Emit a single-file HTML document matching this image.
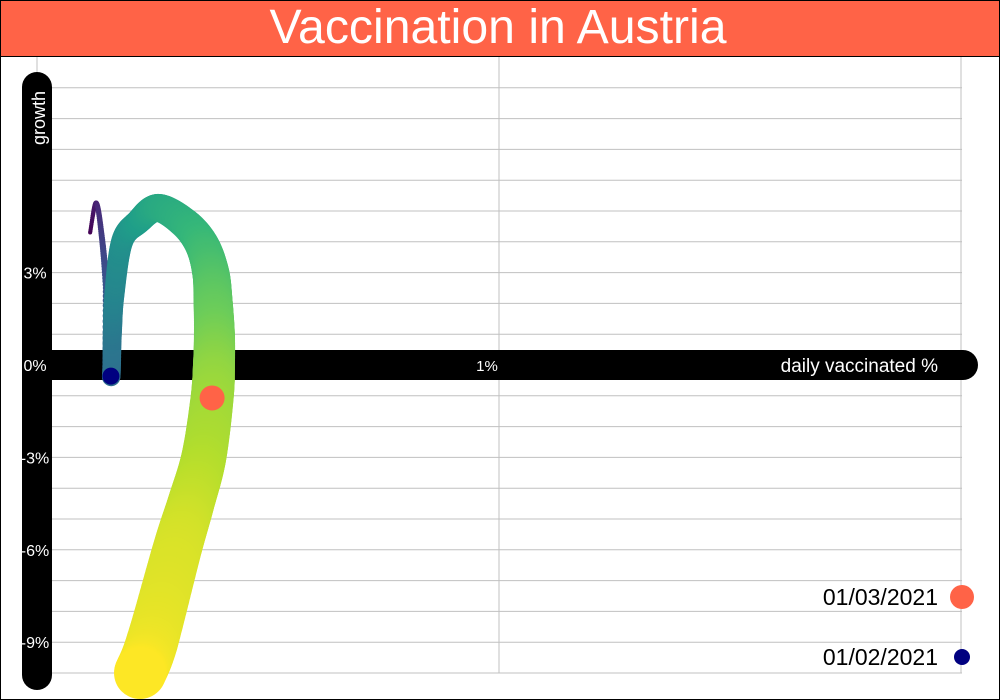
<!DOCTYPE html>
<html><head><meta charset="utf-8"><style>
html,body{margin:0;padding:0;background:#fff;}
svg{display:block;font-family:"Liberation Sans",Arial,sans-serif;}
</style></head><body>
<svg id="chart" width="1000" height="700" viewBox="0 0 1000 700">
<rect x="0.5" y="0.5" width="999" height="699" fill="#fff" stroke="#000"/>
<rect x="0.5" y="0.5" width="999" height="56" fill="#ff6347" stroke="#000"/>
<text x="498" y="43" font-size="48" fill="#fff" text-anchor="middle" textLength="457" lengthAdjust="spacingAndGlyphs">Vaccination in Austria</text>
<g id="grid"></g>
<rect x="22" y="72" width="30" height="618" rx="15" fill="#000"/>
<rect x="22" y="350" width="956" height="30" rx="15" fill="#000"/>
<text transform="translate(45,118) rotate(-90)" font-size="18" fill="#fff" text-anchor="middle">growth</text>
<text x="938" y="372" font-size="19" fill="#fff" text-anchor="end">daily vaccinated %</text>
<g id="ticks"></g>
<g id="series"></g>
<g id="legend"></g>
</svg>
<script>
const xVals=[0.115,0.128,0.140,0.150,0.160,0.163,0.167,0.184,0.219,0.262,0.320,0.357,0.376,0.381,0.384,0.383,0.379,0.361,0.333,0.303,0.249,0.223];
const yVals=[4.3,5.26,4.2,2.5,-0.36,1.0,2.2,4.0,4.65,5.1,4.6,3.9,3.0,2.1,1.0,0.0,-1.07,-3.0,-4.5,-6.0,-9.0,-10.0];
const sizes=[4,5,6,7,18,19,20,22,25,28,31,34,37,39,41,42,43,45,47,49,52,52];
const yTickVals=[3,0,-3,-6,-9];
const yTickLabels=["3%","0%","-3%","-6%","-9%"];
const xTickVals=[1];
const xTickLabels=["1%"];
const legendLabels=["01/03/2021","01/02/2021"];
const legendIndex=[16,4];
const legendColors=["#ff6347","#000080"];

const NS="http://www.w3.org/2000/svg";
const X=v=>37+v*462;
const Y=v=>365-v*30.8;
function mk(tag,attrs,parent){const e=document.createElementNS(NS,tag);for(const k in attrs)e.setAttribute(k,attrs[k]);parent.appendChild(e);return e;}
const grid=document.getElementById('grid');
for(let g=9;g>=-10;g--){
  const l=mk('line',{x1:52,x2:962,y1:Y(g),y2:Y(g),stroke:'#c0c0c0','stroke-width':1},grid);
  
  
}
for(const g of [0,1,2]){
  const l=mk('line',{x1:X(g),x2:X(g),y1:57,y2:Y(-10),stroke:'#c0c0c0','stroke-width':1},grid);
  
  
}
const ticks=document.getElementById('ticks');
yTickVals.forEach((v,i)=>{
  const t=mk('text',{x:35,y:Y(v)+6,'font-size':16,fill:'#fff','text-anchor':'middle'},ticks);
  t.textContent=yTickLabels[i];
  
  
});
xTickVals.forEach((v,i)=>{
  const t=mk('text',{x:X(v)-12,y:371,'font-size':15,fill:'#fff','text-anchor':'middle'},ticks);
  t.textContent=xTickLabels[i];
  
  
});
const vir=[[68,1,84],[72,40,120],[62,74,137],[49,104,142],[38,130,142],[31,158,137],[53,183,121],[109,205,89],[180,222,44],[253,231,37]];
function color(t){t=Math.max(0,Math.min(1,t))*(vir.length-1);const i=Math.min(vir.length-2,Math.floor(t)),f=t-i;const a=vir[i],b=vir[i+1];return `rgb(${Math.round(a[0]+(b[0]-a[0])*f)},${Math.round(a[1]+(b[1]-a[1])*f)},${Math.round(a[2]+(b[2]-a[2])*f)})`;}
const n=xVals.length;
const ci=[0,4,9,15,n-1], ct=[0,0.35,0.6,0.82,1];
function tmap(u){for(let k=0;k<ci.length-1;k++){if(u<=ci[k+1]){return ct[k]+(ct[k+1]-ct[k])*(u-ci[k])/(ci[k+1]-ci[k]);}}return 1;}
function cr(p0,p1,p2,p3,f){return 0.5*((2*p1)+(-p0+p2)*f+(2*p0-5*p1+4*p2-p3)*f*f+(-p0+3*p1-3*p2+p3)*f*f*f);}
const ser=document.getElementById('series');
for(let i=0;i<n-1;i++){
  const i0=Math.max(0,i-1),i3=Math.min(n-1,i+2);
  const steps=20;
  for(let s=0;s<steps;s++){
    const f=s/steps;
    const xv=cr(xVals[i0],xVals[i],xVals[i+1],xVals[i3],f);
    const yv=cr(yVals[i0],yVals[i],yVals[i+1],yVals[i3],f);
    const c=mk('circle',{cx:X(xv),cy:Y(yv),r:(sizes[i]+(sizes[i+1]-sizes[i])*f)/2,fill:color(tmap(i+f))},ser);
    
    
  }
}
const last=mk('circle',{cx:X(xVals[n-1]),cy:Y(yVals[n-1]),r:sizes[n-1]/2,fill:color(1)},ser);


const mr=[12.5,8.5];
legendIndex.forEach((idx,k)=>{
  const c=mk('circle',{cx:X(xVals[idx]),cy:Y(yVals[idx]),r:mr[k],fill:legendColors[k]},ser);
  
  
});
const leg=document.getElementById('legend');
const ly=[597,657];
legendLabels.forEach((lab,k)=>{
  const t=mk('text',{x:938,y:ly[k]+8,'font-size':23,fill:'#000','text-anchor':'end'},leg);
  t.textContent=lab;
  
  
  const c=mk('circle',{cx:962,cy:ly[k],r:mr[k]-0.5,fill:legendColors[k]},leg);
  
  
});
</script>
</body></html>
